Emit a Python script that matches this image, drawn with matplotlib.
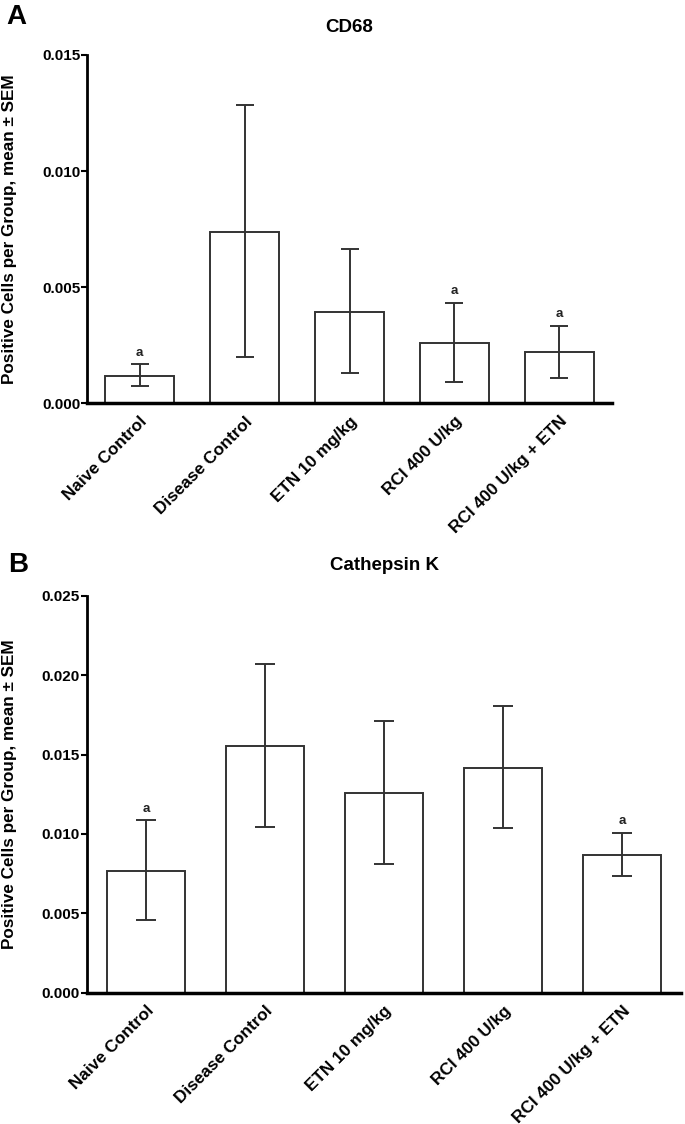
import matplotlib
matplotlib.use("Agg")
import matplotlib.pyplot as plt
import matplotlib.transforms as mtransforms
import numpy as np

groups = ["Naive Control", "Disease Control", "ETN 10 mg/kg", "RCI 400 U/kg", "RCI 400 U/kg + ETN"]

# CD68
cd68_mean = [0.00118, 0.00739, 0.00395, 0.00258, 0.00220]
cd68_upper = [0.00168, 0.01285, 0.00665, 0.00432, 0.00333]
cd68_lower = [0.00076, 0.00201, 0.00130, 0.00090, 0.00110]
cd68_sig = ["a", "", "", "a", "a"]

# Cathepsin K
catk_mean = [0.00766, 0.01556, 0.01260, 0.01417, 0.00867]
catk_upper = [0.01086, 0.02070, 0.01711, 0.01808, 0.01008]
catk_lower = [0.00456, 0.01043, 0.00808, 0.01035, 0.00735]
catk_sig = ["a", "", "", "", "a"]

font = ["Liberation Sans", "DejaVu Sans"]
edge = "#333333"

W, H = 685, 1124
fig = plt.figure(figsize=(W / 100, H / 100), dpi=100)


def panel(rect, mean, upper, lower, sig, ymax, title, title_base, letter, letter_xy, capsize):
    ax = fig.add_axes(rect)
    x = np.arange(len(groups))
    mean = np.array(mean)
    err = [mean - np.array(lower), np.array(upper) - mean]
    ax.bar(x, mean, width=0.655, color="white", edgecolor=edge, linewidth=1.4, zorder=2)
    ax.errorbar(x, mean, yerr=err, fmt="none", ecolor=edge, elinewidth=1.4,
                capsize=capsize, capthick=1.4, zorder=3)
    for xi, up, s in zip(x, upper, sig):
        if s:
            ax.annotate(s, (xi, up), xytext=(0, 4), textcoords="offset points",
                        ha="center", va="bottom", fontsize=9.5, fontweight="bold",
                        family=font, color="#222222")
    ax.set_xlim(-0.5, 4.5)
    ax.set_ylim(0, ymax)
    ticks = np.arange(0, ymax + 1e-9, 0.005)
    ax.set_yticks(ticks)
    ax.set_yticklabels([f"{v:.3f}" for v in ticks], fontsize=11, fontweight="bold", family=font)
    ax.set_xticks(x)
    ax.set_xticklabels(groups, rotation=45, ha="right", rotation_mode="anchor",
                       fontsize=12.3, fontweight="bold", family=font)
    shift = mtransforms.ScaledTranslation(7 / 100, 0, fig.dpi_scale_trans)
    for lab in ax.get_xticklabels():
        lab.set_transform(lab.get_transform() + shift)
    ax.tick_params(axis="x", length=0, pad=7.5)
    ax.tick_params(axis="y", length=4, width=1.5, pad=1, color="black")
    for s in ["top", "right"]:
        ax.spines[s].set_visible(False)
    ax.spines["left"].set_linewidth(2)
    ax.spines["bottom"].set_linewidth(2.5)
    cx = rect[0] + rect[2] / 2
    fig.text(cx, 1 - title_base / H, title, ha="center", va="baseline", fontsize=13.5,
             fontweight="bold", family=font)
    fig.text(letter_xy[0] / W, 1 - letter_xy[1] / H, letter, ha="left", va="baseline",
             fontsize=20, fontweight="bold", family=font)
    fig.text(10 / W, rect[1] + rect[3] / 2, "Positive Cells per Group, mean \u00b1 SEM",
             rotation=90, ha="center", va="center", fontsize=12.3, fontweight="bold",
             family=font)
    return ax


panel([87.3 / W, 1 - 403.3 / H, (611.7 - 87.3) / W, (403.3 - 55) / H],
      cd68_mean, cd68_upper, cd68_lower, cd68_sig, 0.015,
      "CD68", 32, "A", (6, 24), 6.5)
panel([86.7 / W, 1 - 992.7 / H, (681.5 - 86.7) / W, (992.7 - 595.7) / H],
      catk_mean, catk_upper, catk_lower, catk_sig, 0.025,
      "Cathepsin K", 570, "B", (8, 571.5), 7.5)

fig.savefig("out.png", dpi=100)
